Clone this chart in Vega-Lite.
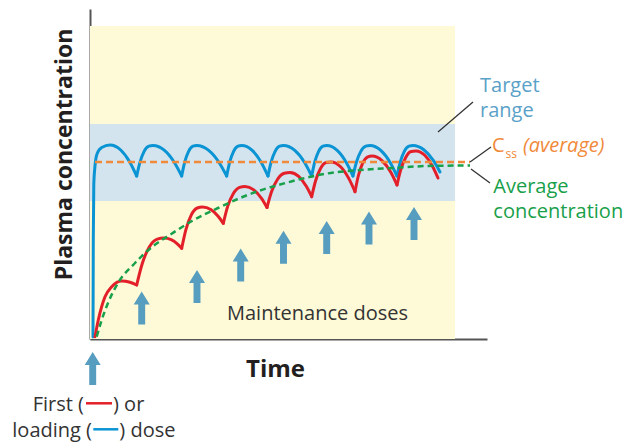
{
  "$schema": "https://vega.github.io/schema/vega-lite/v6.json",
  "width": 397,
  "height": 330,
  "autosize": "none",
  "padding": {"left": 90, "top": 9, "right": 145, "bottom": 104},
  "background": "white",
  "config": {"view": {"stroke": null}, "font": "Open Sans"},
  "datasets": {
    "bg": [{"x": 0, "x2": 365, "y": 0, "y2": 313}],
    "band": [{"x": 0, "x2": 365, "y": 138, "y2": 215}],
    "css": [{"x": 5, "x2": 380, "y": 177}],
    "avg": [
      {"x": 6.7, "y": 2.3}, {"x": 11.7, "y": 19}, {"x": 18, "y": 36}, {"x": 28, "y": 56},
      {"x": 45, "y": 76}, {"x": 62, "y": 92}, {"x": 82, "y": 105.5}, {"x": 102, "y": 118},
      {"x": 128, "y": 131}, {"x": 155, "y": 143}, {"x": 170, "y": 148.5}, {"x": 185, "y": 153},
      {"x": 203, "y": 158}, {"x": 237, "y": 165.5}, {"x": 270, "y": 169}, {"x": 303, "y": 171},
      {"x": 337, "y": 173}, {"x": 380, "y": 173.5}
    ],
    "curves": [
      {"series": "loading", "seg": 1, "x": 3, "y": 2}, {"series": "loading", "seg": 1, "x": 3.3, "y": 100},
      {"series": "loading", "seg": 1, "x": 3.8, "y": 155}, {"series": "loading", "seg": 1, "x": 5, "y": 173},
      {"series": "loading", "seg": 1, "x": 7, "y": 185}, {"series": "loading", "seg": 1, "x": 11.7, "y": 191.5},
      {"series": "loading", "seg": 1, "x": 20, "y": 194}, {"series": "loading", "seg": 1, "x": 30.7, "y": 189},
      {"series": "loading", "seg": 1, "x": 40, "y": 176.6}, {"series": "loading", "seg": 1, "x": 46.7, "y": 163},

      {"series": "loading", "seg": 2, "x": 46.7, "y": 163}, {"series": "loading", "seg": 2, "x": 50, "y": 176.8},
      {"series": "loading", "seg": 2, "x": 54, "y": 187.4}, {"series": "loading", "seg": 2, "x": 58.9, "y": 192.8},
      {"series": "loading", "seg": 2, "x": 63, "y": 193.5}, {"series": "loading", "seg": 2, "x": 74.5, "y": 188.6},
      {"series": "loading", "seg": 2, "x": 84.5, "y": 176.3}, {"series": "loading", "seg": 2, "x": 91.7, "y": 163},

      {"series": "loading", "seg": 3, "x": 91.7, "y": 163}, {"series": "loading", "seg": 3, "x": 94.7, "y": 176.8},
      {"series": "loading", "seg": 3, "x": 98.5, "y": 187.4}, {"series": "loading", "seg": 3, "x": 103, "y": 192.8},
      {"series": "loading", "seg": 3, "x": 106.7, "y": 193.5}, {"series": "loading", "seg": 3, "x": 118.7, "y": 188.6},
      {"series": "loading", "seg": 3, "x": 129.2, "y": 176.3}, {"series": "loading", "seg": 3, "x": 136.7, "y": 163},

      {"series": "loading", "seg": 4, "x": 136.7, "y": 163}, {"series": "loading", "seg": 4, "x": 139.7, "y": 176.8},
      {"series": "loading", "seg": 4, "x": 143.5, "y": 187.4}, {"series": "loading", "seg": 4, "x": 148, "y": 192.8},
      {"series": "loading", "seg": 4, "x": 151.7, "y": 193.5}, {"series": "loading", "seg": 4, "x": 162.2, "y": 188.6},
      {"series": "loading", "seg": 4, "x": 171.4, "y": 176.3}, {"series": "loading", "seg": 4, "x": 178, "y": 163},

      {"series": "loading", "seg": 5, "x": 178, "y": 163}, {"series": "loading", "seg": 5, "x": 181.1, "y": 176.8},
      {"series": "loading", "seg": 5, "x": 185, "y": 187.4}, {"series": "loading", "seg": 5, "x": 189.6, "y": 192.8},
      {"series": "loading", "seg": 5, "x": 193.5, "y": 193.5}, {"series": "loading", "seg": 5, "x": 204.8, "y": 188.6},
      {"series": "loading", "seg": 5, "x": 214.7, "y": 176.3}, {"series": "loading", "seg": 5, "x": 221.7, "y": 163},

      {"series": "loading", "seg": 6, "x": 221.7, "y": 163}, {"series": "loading", "seg": 6, "x": 224.7, "y": 176.8},
      {"series": "loading", "seg": 6, "x": 228.5, "y": 187.4}, {"series": "loading", "seg": 6, "x": 233, "y": 192.8},
      {"series": "loading", "seg": 6, "x": 236.7, "y": 193.5}, {"series": "loading", "seg": 6, "x": 247.2, "y": 188.6},
      {"series": "loading", "seg": 6, "x": 256.4, "y": 176.3}, {"series": "loading", "seg": 6, "x": 263, "y": 163},

      {"series": "loading", "seg": 7, "x": 263, "y": 163}, {"series": "loading", "seg": 7, "x": 266.4, "y": 176.8},
      {"series": "loading", "seg": 7, "x": 270.7, "y": 187.4}, {"series": "loading", "seg": 7, "x": 275.8, "y": 192.8},
      {"series": "loading", "seg": 7, "x": 280, "y": 193.5}, {"series": "loading", "seg": 7, "x": 290.8, "y": 188.6},
      {"series": "loading", "seg": 7, "x": 300.3, "y": 176.3}, {"series": "loading", "seg": 7, "x": 307, "y": 163},

      {"series": "loading", "seg": 8, "x": 307, "y": 163}, {"series": "loading", "seg": 8, "x": 310.2, "y": 176.8},
      {"series": "loading", "seg": 8, "x": 314.2, "y": 187.4}, {"series": "loading", "seg": 8, "x": 319, "y": 192.8},
      {"series": "loading", "seg": 8, "x": 323, "y": 193.5}, {"series": "loading", "seg": 8, "x": 333.8, "y": 189.3},
      {"series": "loading", "seg": 8, "x": 343.3, "y": 178.6}, {"series": "loading", "seg": 8, "x": 350, "y": 167},

      {"series": "first", "seg": 1, "x": 5, "y": 2.3}, {"series": "first", "seg": 1, "x": 8.3, "y": 19},
      {"series": "first", "seg": 1, "x": 15, "y": 42.3}, {"series": "first", "seg": 1, "x": 21.7, "y": 52.3},
      {"series": "first", "seg": 1, "x": 31.7, "y": 58}, {"series": "first", "seg": 1, "x": 40, "y": 56.7},
      {"series": "first", "seg": 1, "x": 46.7, "y": 54},

      {"series": "first", "seg": 2, "x": 46.7, "y": 54}, {"series": "first", "seg": 2, "x": 52.2, "y": 75.3},
      {"series": "first", "seg": 2, "x": 59, "y": 91.6}, {"series": "first", "seg": 2, "x": 67.2, "y": 99.9},
      {"series": "first", "seg": 2, "x": 74, "y": 101}, {"series": "first", "seg": 2, "x": 81.1, "y": 99.4},
      {"series": "first", "seg": 2, "x": 87.3, "y": 95.2}, {"series": "first", "seg": 2, "x": 91.7, "y": 90.7},

      {"series": "first", "seg": 3, "x": 91.7, "y": 90.7}, {"series": "first", "seg": 3, "x": 95.9, "y": 109.4},
      {"series": "first", "seg": 3, "x": 101.1, "y": 123.7}, {"series": "first", "seg": 3, "x": 107.3, "y": 131},
      {"series": "first", "seg": 3, "x": 112.5, "y": 132}, {"series": "first", "seg": 3, "x": 120.8, "y": 129.4},
      {"series": "first", "seg": 3, "x": 128.1, "y": 122.8}, {"series": "first", "seg": 3, "x": 133.3, "y": 115.7},

      {"series": "first", "seg": 4, "x": 133.3, "y": 115.7}, {"series": "first", "seg": 4, "x": 137.6, "y": 132.4},
      {"series": "first", "seg": 4, "x": 143.1, "y": 145.1}, {"series": "first", "seg": 4, "x": 149.6, "y": 151.6},
      {"series": "first", "seg": 4, "x": 155, "y": 152.5}, {"series": "first", "seg": 4, "x": 163.8, "y": 149.1},
      {"series": "first", "seg": 4, "x": 171.5, "y": 140.7}, {"series": "first", "seg": 4, "x": 177, "y": 131.5},

      {"series": "first", "seg": 5, "x": 177, "y": 131.5}, {"series": "first", "seg": 5, "x": 181.6, "y": 147.4},
      {"series": "first", "seg": 5, "x": 187.4, "y": 159.5}, {"series": "first", "seg": 5, "x": 194.3, "y": 165.7},
      {"series": "first", "seg": 5, "x": 200, "y": 166.5}, {"series": "first", "seg": 5, "x": 208.7, "y": 162.6},
      {"series": "first", "seg": 5, "x": 216.3, "y": 152.7}, {"series": "first", "seg": 5, "x": 221.7, "y": 142.3},

      {"series": "first", "seg": 6, "x": 221.7, "y": 142.3}, {"series": "first", "seg": 6, "x": 225.6, "y": 158.2},
      {"series": "first", "seg": 6, "x": 230.4, "y": 170.3}, {"series": "first", "seg": 6, "x": 236.2, "y": 176.5},
      {"series": "first", "seg": 6, "x": 241, "y": 177}, {"series": "first", "seg": 6, "x": 250.6, "y": 172.2},
      {"series": "first", "seg": 6, "x": 259, "y": 160.1}, {"series": "first", "seg": 6, "x": 265, "y": 147.3},

      {"series": "first", "seg": 7, "x": 265, "y": 147.3}, {"series": "first", "seg": 7, "x": 268.4, "y": 163.5},
      {"series": "first", "seg": 7, "x": 272.7, "y": 175.9}, {"series": "first", "seg": 7, "x": 277.8, "y": 182.1},
      {"series": "first", "seg": 7, "x": 282, "y": 183}, {"series": "first", "seg": 7, "x": 292, "y": 178.4},
      {"series": "first", "seg": 7, "x": 300.8, "y": 166.7}, {"series": "first", "seg": 7, "x": 307, "y": 154},

      {"series": "first", "seg": 8, "x": 307, "y": 154}, {"series": "first", "seg": 8, "x": 310.8, "y": 169.4},
      {"series": "first", "seg": 8, "x": 315.6, "y": 181.2}, {"series": "first", "seg": 8, "x": 320.3, "y": 187.2},
      {"series": "first", "seg": 8, "x": 326, "y": 188}, {"series": "first", "seg": 8, "x": 334.8, "y": 183.7},
      {"series": "first", "seg": 8, "x": 342.5, "y": 172.8}, {"series": "first", "seg": 8, "x": 348, "y": 161}
    ],
    "doses": [
      {"dose": "first or loading", "x": 2.7, "y": -29.4},
      {"dose": "maintenance 1", "x": 51.7, "y": 31.1},
      {"dose": "maintenance 2", "x": 107, "y": 52.6},
      {"dose": "maintenance 3", "x": 150.7, "y": 74},
      {"dose": "maintenance 4", "x": 193.5, "y": 91.7},
      {"dose": "maintenance 5", "x": 236.7, "y": 101.6},
      {"dose": "maintenance 6", "x": 279, "y": 111},
      {"dose": "maintenance 7", "x": 324, "y": 115.6}
    ],
    "leaders": [
      {"x": 348, "y": 207, "x2": 383, "y2": 237},
      {"x": 380, "y": 177, "x2": 401, "y2": 192},
      {"x": 381, "y": 170, "x2": 400, "y2": 156}
    ],
    "swatches": [
      {"series": "first", "x": -4, "x2": 22, "y": -64.3},
      {"series": "loading", "x": 3.3, "x2": 28.3, "y": -90.3}
    ],
    "labels": [
      {"text": "Maintenance doses", "x": 227.5, "y": 19, "kind": "center"},
      {"text": "First (", "x": -6, "y": -72, "kind": "right"},
      {"text": "loading (", "x": 2, "y": -97.7, "kind": "right"},
      {"text": ") or", "x": 23, "y": -72, "kind": "left"},
      {"text": ") dose", "x": 29.3, "y": -97.7, "kind": "left"},
      {"text": "Target", "x": 390, "y": 247.3, "kind": "target"},
      {"text": "range", "x": 390, "y": 222.3, "kind": "target"},
      {"text": "C", "x": 402, "y": 187.3, "kind": "css"},
      {"text": "ss", "x": 415.5, "y": 181.5, "kind": "sub"},
      {"text": "(average)", "x": 433, "y": 187.3, "kind": "note"},
      {"text": "Average", "x": 403.3, "y": 145.7, "kind": "avg"},
      {"text": "concentration", "x": 403.3, "y": 120.7, "kind": "avg"}
    ]
  },
  "encoding": {
    "x": {
      "field": "x", "type": "quantitative",
      "scale": {"domain": [0, 397], "nice": false, "zero": false},
      "axis": {
        "orient": "bottom", "labels": false, "ticks": false, "grid": false,
        "domain": true, "domainColor": "#555555", "domainWidth": 2,
        "title": "Time", "titleFont": "Open Sans", "titleFontWeight": "bold",
        "titleFontSize": 24, "titleColor": "#231F20",
        "titleX": 185, "titleY": 37.7, "titleAlign": "center", "titleBaseline": "alphabetic"
      }
    },
    "y": {
      "field": "y", "type": "quantitative",
      "scale": {"domain": [0, 330], "nice": false, "zero": false},
      "axis": {
        "orient": "left", "labels": false, "ticks": false, "grid": false,
        "domain": true, "domainColor": "#555555", "domainWidth": 2,
        "title": "Plasma concentration", "titleFont": "Open Sans", "titleFontWeight": "bold",
        "titleFontSize": 23, "titleColor": "#231F20", "titleAngle": 270,
        "titleX": -18.5, "titleY": 145, "titleAlign": "center", "titleBaseline": "alphabetic"
      }
    }
  },
  "layer": [
    {"data": {"name": "bg"}, "mark": {"type": "rect", "color": "#FEF9D6", "clip": false}, "encoding": {"x2": {"field": "x2"}, "y2": {"field": "y2"}}},
    {"data": {"name": "band"}, "mark": {"type": "rect", "color": "#D3E4EE"}, "encoding": {"x2": {"field": "x2"}, "y2": {"field": "y2"}}},
    {
      "data": {"name": "curves"},
      "mark": {"type": "line", "interpolate": "monotone", "strokeWidth": 3, "strokeCap": "round", "strokeJoin": "round"},
      "encoding": {
        "color": {"field": "series", "type": "nominal", "scale": {"domain": ["first", "loading"], "range": ["#E3202A", "#0B94D4"]}, "legend": null},
        "detail": {"field": "seg", "type": "nominal"},
        "order": {"field": "x", "type": "quantitative"}
      }
    },
    {"data": {"name": "css"}, "mark": {"type": "rule", "color": "#F08A3A", "strokeWidth": 2.5, "strokeDash": [7, 4]}, "encoding": {"x2": {"field": "x2"}}},
    {"data": {"name": "avg"}, "mark": {"type": "line", "interpolate": "monotone", "color": "#18A04A", "strokeWidth": 2.5, "strokeDash": [6, 4]}, "encoding": {}},
    {
      "data": {"name": "doses"},
      "mark": {"type": "point", "shape": "M0,-1L0.485,-0.21L0.21,-0.21L0.21,1L-0.21,1L-0.21,-0.21L-0.485,-0.21Z", "size": 1089, "filled": true, "color": "#579DC0", "opacity": 1, "strokeWidth": 0, "clip": false},
      "encoding": {}
    },
    {"data": {"name": "leaders"}, "mark": {"type": "rule", "color": "#333333", "strokeWidth": 1.3, "clip": false}, "encoding": {"x2": {"field": "x2"}, "y2": {"field": "y2"}}},
    {
      "data": {"name": "swatches"},
      "mark": {"type": "rule", "strokeWidth": 2.5, "clip": false},
      "encoding": {
        "x2": {"field": "x2"},
        "color": {"field": "series", "type": "nominal", "scale": {"domain": ["first", "loading"], "range": ["#E3202A", "#0B94D4"]}, "legend": null}
      }
    },
    {"data": {"name": "labels"}, "transform": [{"filter": "datum.kind === 'center'"}], "mark": {"type": "text", "align": "center", "baseline": "alphabetic", "font": "Open Sans", "fontSize": 20, "color": "#333333"}, "encoding": {"text": {"field": "text"}}},
    {"data": {"name": "labels"}, "transform": [{"filter": "datum.kind === 'right'"}], "mark": {"type": "text", "align": "right", "baseline": "alphabetic", "font": "Open Sans", "fontSize": 20, "color": "#333333", "clip": false}, "encoding": {"text": {"field": "text"}}},
    {"data": {"name": "labels"}, "transform": [{"filter": "datum.kind === 'left'"}], "mark": {"type": "text", "align": "left", "baseline": "alphabetic", "font": "Open Sans", "fontSize": 20, "color": "#333333", "clip": false}, "encoding": {"text": {"field": "text"}}},
    {"data": {"name": "labels"}, "transform": [{"filter": "datum.kind === 'target'"}], "mark": {"type": "text", "align": "left", "baseline": "alphabetic", "font": "Open Sans", "fontSize": 20, "color": "#5AA1C8", "clip": false}, "encoding": {"text": {"field": "text"}}},
    {"data": {"name": "labels"}, "transform": [{"filter": "datum.kind === 'css'"}], "mark": {"type": "text", "align": "left", "baseline": "alphabetic", "font": "Open Sans", "fontSize": 20, "color": "#F08A3A", "clip": false}, "encoding": {"text": {"field": "text"}}},
    {"data": {"name": "labels"}, "transform": [{"filter": "datum.kind === 'sub'"}], "mark": {"type": "text", "align": "left", "baseline": "alphabetic", "font": "Open Sans", "fontSize": 12, "color": "#F08A3A", "clip": false}, "encoding": {"text": {"field": "text"}}},
    {"data": {"name": "labels"}, "transform": [{"filter": "datum.kind === 'note'"}], "mark": {"type": "text", "align": "left", "baseline": "alphabetic", "font": "Open Sans", "fontSize": 20, "fontStyle": "italic", "color": "#F08A3A", "clip": false}, "encoding": {"text": {"field": "text"}}},
    {"data": {"name": "labels"}, "transform": [{"filter": "datum.kind === 'avg'"}], "mark": {"type": "text", "align": "left", "baseline": "alphabetic", "font": "Open Sans", "fontSize": 20, "color": "#18A04A", "clip": false}, "encoding": {"text": {"field": "text"}}}
  ]
}
